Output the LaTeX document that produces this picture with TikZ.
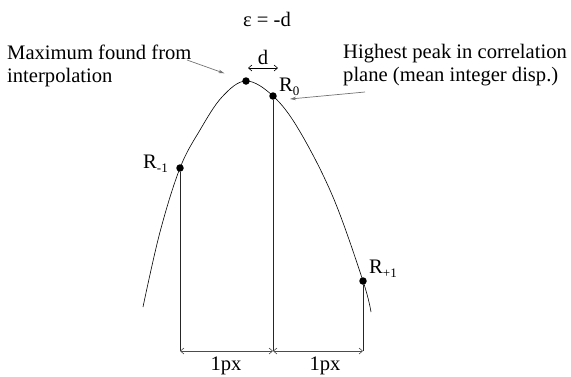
\documentclass[tikz,border=0pt]{standalone}
\usepackage{fontspec}
\setmainfont{Liberation Serif}
\usetikzlibrary{positioning, arrows.meta}

\newcommand{\lowidx}[1]{\raisebox{-0.45ex}{\fontsize{13}{13}\selectfont #1}}

\begin{document}
\begin{tikzpicture}[x=1pt, y=-1pt, font=\fontsize{20.6}{23}\selectfont]
  \tikzset{pt/.style={circle, fill=black, inner sep=0pt, minimum size=7.5pt},
           lbl/.style={inner sep=0pt},
           guide/.style={line width=0.9pt, black!85},
           note/.style={-{Stealth[length=6pt, width=3.5pt]}, black!55, line width=0.7pt},
           dim/.style={{Straight Barb[length=3.5pt, width=6pt]}-{Straight Barb[length=3.5pt, width=6pt]}, black!70, line width=0.6pt}}
  \useasboundingbox (0,0) rectangle (571,376);

  \draw[line width=0.6pt] plot[smooth, tension=0.6] coordinates {(143,307) (160,232) (180,168) (200,130) (222,97) (246,81) (273,96) (299,130) (333,197) (363,281) (371,312)};

  \node[pt] (pmax) at (246,81) {};
  \node[pt] (r0) at (273,96) {};
  \node[pt] (rm) at (180,168) {};
  \node[pt] (rp) at (363,281) {};

  \coordinate (bm) at (180,351);
  \coordinate (b0) at (273,351);
  \coordinate (bp) at (363,351);

  \draw[guide] (rm) -- (bm);
  \draw[guide] (r0) -- (b0);
  \draw[guide] (rp) -- (bp);

  \draw[dim] (bm) -- (b0);
  \draw[dim] (b0) -- (bp);
  \node[lbl, anchor=base] (w1) at (226,370) {1px};
  \node[lbl, anchor=base] (w2) at (325,370) {1px};

  \node[lbl, anchor=base west] (lr0) at (279,91) {R\lowidx{0}};
  \node[lbl, anchor=base west] (lrm) at (143,168) {R\lowidx{-1}};
  \node[lbl, anchor=base west] (lrp) at (369,273) {R\lowidx{+1}};

  \node[lbl] (eps) at (267,19) {ε = -d};
  \coordinate (dl) at (248,68);
  \coordinate (dr) at (278,68);
  \coordinate (dm) at (263,68);
  \draw[dim, black] (dl) -- (dr);
  \node[lbl, above=3pt of dm] (dtxt) {d};

  \node[lbl, anchor=base west, align=left] (maxtxt) at (7,82) {Maximum found from\\interpolation};
  \node[lbl, anchor=base west, align=left] (peaktxt) at (343,81) {Highest peak in correlation\\plane (mean integer disp.)};

  \coordinate (amax) at (187,60);
  \draw[note, shorten >=19pt] (amax) -- (pmax);
  \coordinate (apk) at (365,92);
  \coordinate (tpk) at (290,99);
  \draw[note] (apk) -- (tpk);
\end{tikzpicture}
\end{document}
